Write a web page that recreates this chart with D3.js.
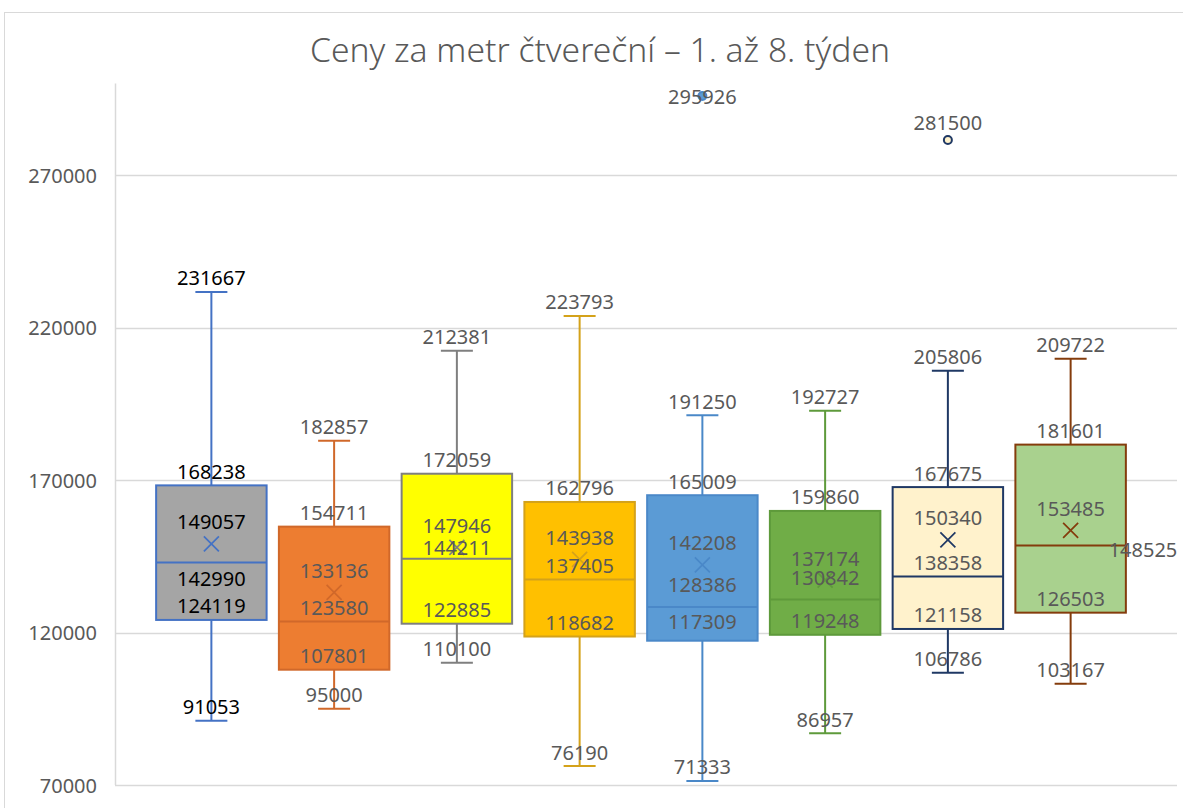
<!DOCTYPE html>
<html>
<head>
<meta charset="utf-8">
<script src="https://cdn.jsdelivr.net/npm/d3@7/dist/d3.min.js"></script>
<style>
  body { margin: 0; background: #fff; }
  svg { display: block; font-family: "Noto Sans", "Open Sans", sans-serif; }
</style>
</head>
<body>
<div id="graphic"></div>
<script>
var weeks = ["1. týden", "2. týden", "3. týden", "4. týden", "5. týden", "6. týden", "7. týden", "8. týden"];
var mins = [91053, 95000, 110100, 76190, 71333, 86957, 106786, 103167];
var q1s = [124119, 107801, 122885, 118682, 117309, 119248, 121158, 126503];
var medians = [142990, 123580, 144211, 137405, 128386, 130842, 138358, 148525];
var means = [149057, 133136, 147946, 143938, 142208, 137174, 150340, 153485];
var q3s = [168238, 154711, 172059, 162796, 165009, 159860, 167675, 181601];
var maxs = [231667, 182857, 212381, 223793, 191250, 192727, 205806, 209722];
var outliers = [[], [], [], [], [295926], [], [281500], []];
var yTicks = [70000, 120000, 170000, 220000, 270000];

var fills = ["#a5a5a5", "#ed7d31", "#ffff00", "#ffc000", "#5b9bd5", "#70ad47", "#fff2cc", "#a9d18e"];
var strokes = ["#4472c4", "#d0682a", "#7f7f7f", "#d4a21a", "#4a88c8", "#5e9a3b", "#1f3864", "#843c0c"];

var graphic = new Object;

graphic.create = function() {
  var svg, x, y, g, boxes, labels, plotLeft, plotRight, bw, i, d, placeLabel;
  svg = d3.select("#graphic").append("svg").attr("width", 1183).attr("height", 808);
  svg.append("rect").attr("width", 1183).attr("height", 808).attr("fill", "#fff");
  svg.append("rect").attr("x", 4.5).attr("y", 12.5).attr("width", 1300).attr("height", 900)
    .attr("fill", "none").attr("stroke", "#d9d9d9");

  plotLeft = 115;
  plotRight = 1177;
  y = d3.scaleLinear().domain([70000, 300000]).range([785, 83.5]);
  x = d3.scaleBand().domain(weeks).range([150, 1132]).paddingInner(0.1).paddingOuter(0.05);
  bw = x.bandwidth();

  svg.append("text").attr("x", 600).attr("y", 62).attr("text-anchor", "middle")
    .attr("textLength", 580).attr("lengthAdjust", "spacingAndGlyphs")
    .attr("font-size", 33).attr("font-weight", 300).attr("fill", "#595959")
    .text("Ceny za metr čtvereční – 1. až 8. týden");

  // grid + y labels
  g = svg.append("g");
  g.selectAll("line.grid").data(yTicks).enter().append("line").attr("class", "grid")
    .attr("x1", plotLeft).attr("x2", plotRight)
    .attr("y1", function(d) { return Math.round(y(d)) + 0.5; })
    .attr("y2", function(d) { return Math.round(y(d)) + 0.5; })
    .attr("stroke", "#d9d9d9").attr("stroke-width", 1.5);
  g.append("line").attr("x1", plotLeft + 0.5).attr("x2", plotLeft + 0.5)
    .attr("y1", y(300000)).attr("y2", y(70000)).attr("stroke", "#d9d9d9").attr("stroke-width", 1.5);
  g.selectAll("text.tick").data(yTicks).enter().append("text").attr("class", "tick")
    .attr("x", 97).attr("y", function(d) { return y(d); })
    .attr("text-anchor", "end").attr("dominant-baseline", "central")
    .attr("font-size", 20).attr("fill", "#595959")
    .text(function(d) { return d; });

  boxes = svg.append("g").selectAll("g.box").data(weeks).enter().append("g").attr("class", "box");

  boxes.each(function(w, i) {
    var b = d3.select(this), cx = x(w) + bw / 2, s = strokes[i];
    // whiskers
    b.append("line").attr("x1", cx).attr("x2", cx).attr("y1", y(maxs[i])).attr("y2", y(q3s[i]))
      .attr("stroke", s).attr("stroke-width", 2);
    b.append("line").attr("x1", cx).attr("x2", cx).attr("y1", y(q1s[i])).attr("y2", y(mins[i]))
      .attr("stroke", s).attr("stroke-width", 2);
    b.append("line").attr("x1", cx - 16).attr("x2", cx + 16).attr("y1", y(maxs[i])).attr("y2", y(maxs[i]))
      .attr("stroke", s).attr("stroke-width", 2);
    b.append("line").attr("x1", cx - 16).attr("x2", cx + 16).attr("y1", y(mins[i])).attr("y2", y(mins[i]))
      .attr("stroke", s).attr("stroke-width", 2);
    // box
    b.append("rect").attr("x", x(w)).attr("y", y(q3s[i])).attr("width", bw)
      .attr("height", y(q1s[i]) - y(q3s[i])).attr("fill", fills[i])
      .attr("stroke", s).attr("stroke-width", 2);
    b.append("line").attr("x1", x(w)).attr("x2", x(w) + bw).attr("y1", y(medians[i])).attr("y2", y(medians[i]))
      .attr("stroke", s).attr("stroke-width", 2);
    // mean marker
    b.append("path").attr("d", "M" + (cx - 7.5) + "," + (y(means[i]) - 7.5) + "l15,15M" + (cx + 7.5) + "," + (y(means[i]) - 7.5) + "l-15,15")
      .attr("stroke", s).attr("stroke-width", 1.75).attr("fill", "none");
    // outliers
    b.selectAll("circle").data(outliers[i]).enter().append("circle")
      .attr("cx", cx).attr("cy", function(d) { return y(d); }).attr("r", 4)
      .attr("fill", fills[i]).attr("stroke", s).attr("stroke-width", 2);
  });

  // data labels
  placeLabel = function(kind, i) {
    if (kind === "median" && i === 0) return [0, 16];
    if (kind === "median" && i === 7) return [38, 4];
    if (kind === "median" && i === 2) return [0, -11];
    if (kind === "median" && (i === 4 || i === 5)) return [0, -22];
    if (kind === "q1" && i === 4) return [0, -19];
    if (kind === "mean") return [0, -22];
    if (kind === "out") return i === 4 ? [0, 1] : [0, -17];
    return [0, -14];
  };
  labels = svg.append("g");
  for (i = 0; i < weeks.length; i++) {
    d = [["max", maxs[i]], ["q3", q3s[i]], ["mean", means[i]], ["median", medians[i]], ["q1", q1s[i]], ["min", mins[i]]];
    outliers[i].forEach(function(o) { d.push(["out", o]); });
    labels.selectAll("text.l" + i).data(d).enter().append("text").attr("class", "l" + i)
      .attr("x", function(v) { return x(weeks[i]) + bw / 2 + placeLabel(v[0], i)[0]; })
      .attr("y", function(v) { return y(v[1]) + placeLabel(v[0], i)[1]; })
      .attr("text-anchor", function(v) { return placeLabel(v[0], i)[0] > 0 ? "start" : "middle"; })
      .attr("dominant-baseline", "central")
      .attr("font-size", 20)
      .attr("fill", i === 0 ? "#000" : "#595959")
      .text(function(v) { return v[1]; });
  }
};

graphic.create();
</script>
</body>
</html>
